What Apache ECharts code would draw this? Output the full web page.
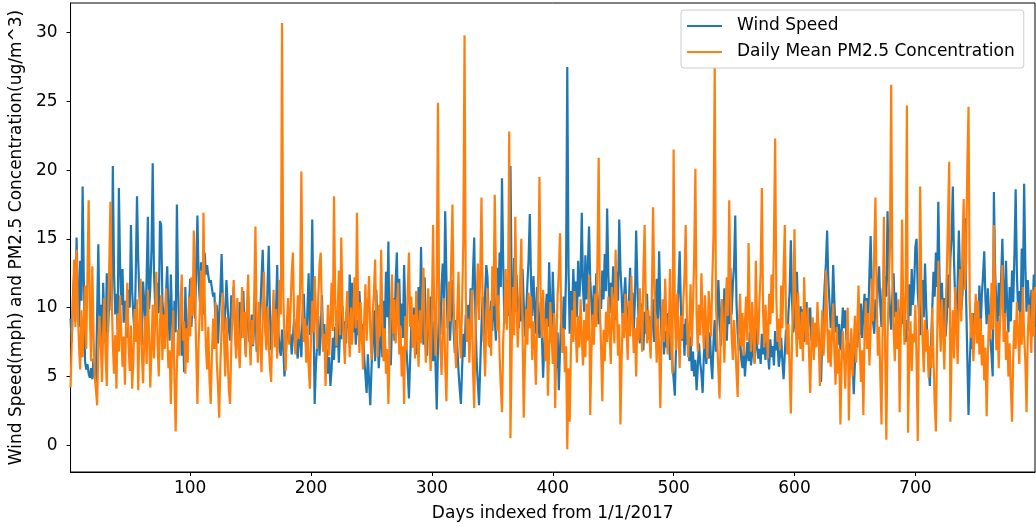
<!DOCTYPE html>
<html>
<head>
<meta charset="utf-8">
<script src="https://cdn.jsdelivr.net/npm/echarts@6/dist/echarts.min.js"></script>
<style>
html,body{margin:0;padding:0;background:#fff;}
#chart{width:1036px;height:527px;}
</style>
</head>
<body>
<div id="chart"></div>
<script>
// Wind speed (mph), one value per day starting at day 1
const windSpeed = [
9.2, 7.5, 10.8, 12.5, 9.0, 15.1, 11.2, 8.6, 13.4, 10.5,
18.8, 12.0, 6.1, 5.5, 5.9, 5.2, 4.9, 5.6, 4.8, 6.3,
5.0, 4.6, 9.5, 14.6, 8.8, 10.2, 6.3, 11.8, 9.0, 7.4,
12.5, 8.2, 10.6, 15.0, 9.8, 20.3, 12.4, 9.5, 11.0, 8.4,
18.7, 13.0, 10.2, 12.8, 8.9, 10.5, 9.1, 7.8, 11.3, 10.0,
16.0, 11.2, 9.4, 8.1, 12.6, 18.1, 13.5, 10.8, 9.6, 7.3,
11.9, 10.4, 8.7, 12.3, 16.6, 9.9, 11.4, 14.2, 20.5, 12.7,
10.3, 8.9, 11.8, 9.6, 16.3, 16.0, 10.5, 9.2, 8.1, 11.0,
13.0, 9.7, 7.6, 12.4, 9.0, 6.8, 10.5, 8.2, 17.5, 11.3,
7.9, 9.4, 6.5, 8.8, 5.3, 11.5, 8.0, 7.2, 9.9, 12.1,
8.6, 10.3, 11.8, 9.2, 13.0, 16.7, 12.0, 10.4, 13.3, 11.0,
9.5, 14.0, 12.4, 13.1, 12.3, 11.8, 12.0, 11.4, 10.8, 11.1,
8.9, 10.2, 7.4, 9.5, 11.2, 13.9, 10.6, 8.3, 9.7, 12.0,
10.1, 8.5, 7.6, 10.9, 9.2, 11.5, 8.7, 6.9, 9.3, 8.0,
10.4, 7.8, 9.1, 11.2, 8.2, 6.6, 9.0, 10.8, 7.5, 8.3,
9.5, 7.2, 8.8, 10.6, 6.8, 8.4, 7.5, 9.7, 12.0, 14.2,
10.8, 9.1, 7.4, 11.6, 14.5, 9.8, 6.9, 8.5, 10.2, 8.8,
9.6, 13.1, 8.2, 7.0, 6.5, 8.4, 7.2, 5.0, 6.1, 8.3,
9.0, 7.4, 8.1, 6.6, 7.8, 9.2, 8.5, 7.1, 6.3, 8.8,
7.5, 6.4, 9.6, 11.0, 8.3, 7.0, 9.8, 12.5, 8.0, 10.2,
16.4, 9.5, 3.0, 5.8, 7.2, 9.4, 6.5, 8.1, 10.9, 7.6,
8.8, 6.1, 7.0, 5.2, 6.4, 4.3, 5.5, 7.8, 6.2, 8.6,
7.1, 9.3, 6.0, 8.4, 7.7, 10.1, 8.3, 9.0, 7.4, 10.6,
8.5, 12.4, 9.6, 11.8, 8.2, 10.0, 7.3, 9.1, 8.0, 11.2,
9.4, 7.5, 8.8, 6.3, 5.1, 3.8, 6.6, 4.7, 2.9, 5.5,
7.9, 9.8, 6.1, 11.3, 8.4, 5.6, 7.2, 9.0, 6.4, 10.5,
8.1, 12.6, 9.3, 14.8, 7.4, 5.8, 8.9, 10.7, 7.6, 11.9,
14.0, 9.2, 12.1, 8.5, 10.3, 7.8, 13.1, 9.6, 6.9, 5.4,
3.4, 6.2, 8.7, 7.1, 10.0, 8.4, 6.6, 9.3, 11.5, 8.8,
14.4, 9.9, 7.3, 12.2, 8.6, 6.5, 9.7, 7.9, 10.8, 8.2,
6.1, 9.0, 5.8, 2.6, 6.9, 10.4, 8.0, 11.6, 13.2, 10.1,
17.0, 12.3, 8.5, 10.9, 7.6, 9.8, 12.0, 8.3, 6.7, 9.1,
7.2, 5.4, 4.1, 3.0, 5.6, 8.1, 6.4, 9.5, 7.8, 10.2,
8.0, 11.4, 9.1, 12.5, 15.1, 9.4, 6.2, 4.5, 2.9, 5.8,
8.6, 10.8, 7.5, 11.0, 13.1, 12.2, 9.0, 7.1, 10.5, 8.3,
11.8, 9.2, 7.6, 12.9, 10.1, 14.0, 11.5, 19.4, 13.2, 8.8,
10.6, 12.0, 9.4, 14.5, 20.3, 11.0, 8.2, 13.6, 9.7, 12.4,
10.1, 8.5, 11.2, 9.0, 12.8, 10.3, 7.9, 9.6, 11.7, 13.5,
16.8, 11.9, 9.4, 12.3, 10.0, 8.1, 11.5, 9.2, 7.8, 10.4,
8.0, 4.9, 7.3, 9.5, 11.0, 8.6, 13.3, 10.1, 7.4, 12.6,
9.8, 7.0, 5.6, 8.2, 4.0, 6.9, 9.3, 7.5, 10.8, 8.4,
12.5, 27.5, 13.0, 8.1, 11.2, 9.6, 12.8, 10.4, 11.9, 9.3,
13.4, 10.8, 12.2, 16.9, 11.5, 9.7, 13.8, 10.6, 12.9, 15.9,
12.0, 10.3, 8.7, 11.6, 9.4, 12.5, 10.1, 8.8, 11.3, 9.9,
12.7, 10.6, 13.9, 11.2, 17.2, 12.4, 9.6, 11.8, 10.2, 13.0,
11.4, 9.1, 12.6, 10.5, 16.4, 12.8, 11.0, 8.5, 10.9, 12.2,
9.8, 7.6, 10.4, 12.9, 9.5, 11.1, 8.3, 10.6, 15.6, 11.8,
9.2, 7.4, 10.3, 8.6, 6.9, 9.7, 8.1, 11.0, 7.7, 9.4,
6.8, 8.9, 10.6, 7.5, 9.9, 12.1, 8.7, 14.1, 10.2, 7.9,
9.4, 6.6, 8.3, 7.1, 9.6, 8.0, 6.2, 7.8, 5.9, 4.8,
3.6, 7.2, 9.0, 11.4, 14.1, 10.0, 7.6, 8.8, 6.5, 9.2,
7.3, 8.5, 6.1, 7.9, 5.4, 6.8, 5.0, 6.2, 4.0, 5.7,
7.4, 6.0, 5.2, 3.8, 6.5, 8.0, 5.9, 7.1, 6.3, 8.2,
6.0, 4.8, 7.5, 9.1, 6.8, 8.4, 12.0, 9.7, 7.2, 10.6,
8.3, 11.4, 9.0, 7.6, 10.2, 8.8, 12.9, 9.5, 11.7, 13.0,
16.7, 10.4, 8.1, 6.9, 7.8, 6.2, 5.6, 7.0, 5.0, 6.4,
7.5, 6.1, 8.2, 5.8, 6.7, 7.9, 6.0, 8.5, 7.2, 6.3,
7.0, 5.9, 8.1, 6.6, 7.4, 6.2, 8.0, 6.8, 5.5, 7.7,
6.4, 7.2, 5.8, 8.3, 6.9, 7.6, 5.7, 6.5, 7.8, 6.1,
4.8, 6.7, 8.4, 7.3, 9.6, 11.2, 14.9, 10.5, 8.2, 9.0,
10.8, 12.6, 9.4, 7.7, 10.1, 8.6, 9.9, 7.5, 8.9, 10.4,
8.2, 9.3, 10.0, 7.6, 9.1, 6.8, 8.4, 7.2, 9.5, 8.0,
6.6, 4.6, 7.9, 9.8, 11.7, 13.2, 15.6, 12.0, 10.3, 8.5,
9.7, 13.1, 10.5, 8.2, 9.4, 7.3, 8.8, 6.9, 8.1, 10.0,
8.5, 9.8, 7.6, 8.9, 6.2, 7.4, 5.5, 6.6, 3.7, 6.0,
8.2, 7.1, 9.4, 8.0, 10.3, 7.8, 9.6, 11.0, 8.5, 10.7,
9.2, 12.4, 15.2, 11.5, 9.0, 8.1, 10.6, 9.3, 11.8, 13.0,
10.2, 8.6, 11.4, 9.5, 12.3, 10.8, 17.0, 12.1, 9.7, 8.4,
10.9, 12.5, 9.3, 11.1, 8.7, 10.0, 7.9, 9.6, 11.2, 8.8,
10.4, 7.5, 9.1, 8.3, 11.7, 9.4, 12.8, 10.2, 11.5, 14.4,
15.0, 11.2, 9.6, 8.0, 10.5, 12.0, 9.3, 13.2, 10.1, 7.5,
5.8, 4.3, 7.4, 9.9, 12.6, 10.8, 14.0, 11.5, 17.7, 12.3,
9.4, 11.8, 8.6, 10.7, 7.9, 9.2, 12.4, 10.0, 13.6, 15.1,
18.8, 13.4, 10.5, 9.0, 11.7, 15.6, 12.2, 9.8, 11.0, 13.5,
16.5, 10.7, 6.4, 2.2, 5.9, 8.3, 7.0, 9.6, 8.1, 10.4,
7.7, 9.0, 11.6, 8.4, 10.9, 12.3, 14.1, 10.6, 8.8, 11.4,
9.5, 7.8, 6.6, 5.0, 18.4, 12.6, 10.3, 8.7, 11.8, 9.4,
12.2, 15.0, 11.1, 9.3, 13.4, 10.0, 8.2, 11.5, 9.0, 12.7,
10.4, 13.9, 18.6, 12.5, 9.8, 11.2, 8.6, 14.3, 10.9, 19.0,
13.1, 9.7, 12.0, 10.5, 8.9, 11.3, 9.6, 12.4, 8.6
];

// Daily mean PM2.5 concentration (ug/m^3), one value per day starting at day 1
const pm25 = [
4.2, 7.5, 10.3, 13.5, 8.6, 14.2, 10.1, 7.2, 5.5, 9.8,
6.4, 8.9, 11.6, 7.0, 12.4, 17.8, 9.5, 6.1, 13.0, 8.2,
5.0, 4.1, 2.9, 6.8, 9.4, 7.6, 4.6, 8.3, 10.7, 6.5,
4.3, 9.1, 12.8, 17.7, 11.0, 7.4, 5.2, 8.0, 4.1, 9.6,
6.8, 10.9, 8.1, 5.7, 7.9, 4.4, 9.2, 11.8, 7.3, 5.4,
8.7, 4.1, 6.2, 9.9, 7.5, 10.6, 4.0, 8.3, 12.1, 6.6,
4.5, 7.8, 9.4, 5.9, 11.3, 8.0, 4.2, 7.1, 10.2, 6.3,
9.0, 12.6, 7.4, 5.0, 8.8, 10.9, 6.2, 9.5, 7.0, 11.4,
8.1, 5.6, 6.9, 3.0, 7.3, 9.8, 4.6, 1.0, 5.8, 8.4,
6.5, 10.1, 12.4, 7.6, 9.0, 5.2, 8.5, 6.0, 10.8, 7.9,
12.2, 9.4, 15.6, 11.0, 6.8, 3.0, 7.5, 9.9, 12.7, 8.3,
16.9, 10.5, 7.2, 5.5, 8.6, 4.8, 3.0, 6.7, 9.2, 7.0,
10.4, 6.1, 4.3, 2.0, 5.9, 8.5, 11.1, 7.7, 5.0, 9.3,
6.6, 4.0, 3.0, 7.2, 9.6, 12.0, 8.4, 6.3, 10.7, 7.5,
5.6, 8.9, 11.5, 7.8, 9.7, 6.4, 10.2, 12.4, 8.0, 5.8,
9.1, 7.3, 11.0, 15.9, 8.6, 6.0, 10.4, 7.7, 5.3, 9.2,
12.6, 8.5, 6.9, 10.1, 7.4, 5.6, 4.6, 8.8, 11.3, 7.1,
9.9, 6.3, 8.2, 12.0, 9.5, 30.7, 11.2, 7.6, 5.4, 8.9,
10.7, 7.3, 9.8, 12.5, 14.0, 9.1, 6.6, 8.4, 10.9, 7.7,
11.6, 19.9, 10.3, 7.5, 9.2, 6.0, 8.7, 5.8, 4.1, 7.9,
10.5, 8.2, 12.3, 9.6, 7.0, 10.8, 13.1, 14.0, 9.4, 6.8,
8.1, 4.3, 7.6, 10.2, 6.5, 9.0, 11.8, 8.3, 18.1, 10.6,
7.2, 9.5, 12.7, 8.0, 15.1, 10.3, 7.8, 5.9, 9.4, 11.2,
8.6, 6.4, 10.0, 7.3, 9.7, 12.2, 8.5, 16.9, 9.8, 6.7,
10.4, 8.0, 5.5, 9.2, 11.7, 7.6, 10.1, 12.3, 8.4, 6.2,
9.6, 11.0, 13.5, 8.8, 6.4, 10.2, 7.9, 14.2, 9.0, 6.1,
8.5, 5.2, 7.0, 3.0, 6.8, 9.9, 12.4, 8.1, 10.6, 7.4,
9.3, 11.8, 6.6, 8.7, 5.0, 7.2, 3.0, 9.4, 6.9, 11.3,
14.0, 8.6, 10.8, 7.1, 9.5, 6.3, 11.2, 8.0, 5.7, 9.8,
7.4, 10.5, 12.9, 8.2, 6.0, 9.1, 11.4, 7.7, 5.4, 10.0,
16.0, 8.9, 6.5, 11.6, 24.9, 9.3, 7.2, 5.1, 8.6, 10.7,
5.8, 3.2, 8.0, 11.9, 9.0, 13.5, 17.5, 10.2, 7.4, 5.6,
9.7, 12.6, 8.1, 6.3, 10.4, 14.8, 29.8, 11.0, 7.5, 9.2,
6.0, 8.7, 11.3, 5.4, 2.7, 7.9, 10.6, 13.2, 9.1, 12.5,
18.0, 10.3, 7.6, 5.0, 8.9, 11.4, 7.2, 9.8, 6.5, 13.0,
10.1, 18.2, 12.4, 8.3, 10.9, 6.6, 4.2, 2.4, 7.7, 9.5,
12.8, 8.4, 10.7, 22.8, 0.5, 6.9, 11.5, 8.0, 16.6, 10.3,
7.1, 9.4, 12.0, 15.0, 8.2, 2.0, 6.4, 9.9, 7.3, 11.1,
8.5, 10.8, 6.2, 9.0, 7.4, 4.4, 8.8, 12.5, 19.5, 10.0,
7.8, 11.3, 8.6, 6.1, 9.2, 3.6, 7.0, 10.4, 8.1, 5.9,
9.6, 2.7, 7.4, 10.9, 12.6, 15.4, 9.0, 6.7, 8.5, 5.3,
7.2, -0.3, 5.6, 1.7, 6.9, 9.8, 7.5, 11.2, 8.3, 6.0,
9.4, 7.1, 10.6, 8.0, 5.8, 9.1, 6.4, 10.3, 7.6, 12.4,
2.2, 6.8, 9.5, 7.3, 11.0, 8.6, 13.8, 20.9, 9.9, 7.0,
3.2, 8.4, 6.1, 9.7, 7.5, 10.8, 8.2, 5.9, 11.5, 9.0,
7.4, 14.2, 10.1, 6.5, 8.8, 1.5, 6.3, 9.6, 7.8, 11.0,
8.4, 6.2, 10.5, 7.9, 12.3, 9.1, 6.7, 8.5, 5.0, 9.3,
7.6, 11.4, 9.0, 6.8, 12.7, 16.0, 10.2, 7.4, 9.8, 8.0,
6.3, 10.9, 17.3, 11.6, 8.5, 6.0, 9.2, 7.1, 2.7, 8.3,
10.6, 7.5, 12.1, 9.0, 6.6, 8.4, 12.8, 7.3, 5.2, 21.5,
9.7, 6.9, 11.0, 8.2, 5.6, 9.4, 7.7, 10.5, 12.3, 16.0,
9.1, 6.4, 8.8, 11.7, 7.2, 10.0, 13.6, 20.1, 9.5, 6.8,
10.2, 8.0, 12.5, 9.3, 7.0, 10.9, 8.4, 6.3, 11.2, 9.6,
7.9, 12.0, 15.3, 27.5, 10.4, 7.7, 5.5, 3.4, 8.1, 10.6,
8.3, 6.0, 9.9, 12.2, 9.4, 17.8, 11.5, 8.0, 6.2, 9.1,
7.4, 5.3, 3.5, 8.7, 11.0, 7.2, 9.6, 6.5, 8.9, 10.8,
7.6, 14.7, 9.3, 6.8, 10.4, 8.1, 5.9, 13.4, 9.0, 7.3,
10.5, 12.6, 18.7, 9.8, 7.1, 10.2, 8.4, 6.3, 11.0, 8.8,
12.4, 9.6, 14.9, 22.3, 10.7, 7.5, 9.2, 6.9, 11.6, 8.5,
12.7, 16.0, 9.4, 6.6, 8.8, 5.4, 2.3, 7.9, 10.3, 15.7,
9.0, 6.4, 11.1, 8.2, 7.0, 9.7, 6.1, 12.2, 8.6, 7.3,
10.0, 6.8, 3.8, 7.5, 9.3, 6.2, 8.9, 7.1, 10.4, 8.0,
4.3, 7.6, 9.8, 6.5, 8.2, 12.7, 9.1, 6.0, 8.4, 5.7,
7.9, 10.3, 6.8, 4.4, 8.6, 5.2, 7.0, 1.5, 5.9, 8.3,
6.4, 4.1, 7.7, 10.0, 1.8, 6.2, 8.5, 5.0, 7.3, 9.4,
6.0, 8.8, 11.6, 7.2, 4.6, 6.9, 2.2, 8.1, 10.5, 7.0,
9.6, 5.8, 8.3, 12.1, 9.0, 14.4, 18.0, 10.7, 6.5, 8.6,
5.1, 1.5, 9.2, 16.6, 6.8, 0.4, 7.9, 11.3, 14.5, 26.2,
12.0, 8.4, 6.1, 9.7, 7.0, 10.6, 2.4, 8.8, 16.4, 9.9,
7.3, 11.8, 24.7, 0.9, 6.6, 9.0, 5.4, 8.1, 7.5, 10.2,
6.2, 0.3, 9.4, 18.8, 11.0, 7.6, 5.3, 9.1, 6.8, 8.4,
4.9, 7.2, 5.6, 10.0, 6.4, 3.1, 1.0, 7.5, 13.4, 9.2,
6.8, 10.6, 8.1, 5.5, 9.7, 12.4, 16.3, 20.6, 1.7, 7.0,
9.8, 6.3, 11.5, 8.7, 5.9, 10.1, 12.8, 9.0, 14.6, 17.9,
11.3, 13.7, 20.2, 24.6, 10.4, 7.8, 9.6, 6.1, 8.3, 11.0,
7.4, 10.5, 6.6, 9.2, 5.8, 8.0, 4.7, 7.1, 2.1, 6.3,
9.5, 7.7, 11.8, 8.4, 16.0, 10.2, 6.9, 9.0, 5.6, 8.8,
10.7, 13.1, 7.5, 9.6, 6.2, 8.3, 5.0, 7.4, 4.2, 1.7,
6.5, 9.1, 7.0, 10.4, 8.2, 5.9, 9.7, 7.3, 11.5, 8.0,
6.1, 2.4, 7.8, 10.2, 8.5, 6.7, 11.3, 7.9, 11.5
];

const xTicks = [100, 200, 300, 400, 500, 600, 700];
const yTicks = [0, 5, 10, 15, 20, 25, 30];
const seriesNames = ['Wind Speed', 'Daily Mean PM2.5 Concentration'];

const windPts = windSpeed.map((v, i) => [i + 1, v]);
const pmPts = pm25.map((v, i) => [i + 1, v]);

const FONT = 'DejaVu Sans';
const FS = 17;
const chart = echarts.init(document.getElementById('chart'), null, {renderer: 'canvas'});
chart.setOption({
  animation: false,
  backgroundColor: '#ffffff',
  textStyle: {fontFamily: FONT},
  grid: {left: 67, right: 1, top: 3, bottom: 51, show: true, borderColor: '#000', borderWidth: 1, backgroundColor: 'transparent'},
  legend: {
    orient: 'vertical', left: 681, top: 10,
    padding: [6, 9, 6, 6],
    itemWidth: 35, itemHeight: 2, itemGap: 6,
    icon: 'rect',
    backgroundColor: 'rgba(255,255,255,0.85)',
    borderColor: '#cccccc', borderWidth: 1, borderRadius: 3,
    textStyle: {fontFamily: FONT, fontSize: FS, color: '#000', lineHeight: 20, padding: [0, 0, 0, 10]},
    data: seriesNames
  },
  xAxis: {
    type: 'value', min: 1, max: 799,
    name: 'Days indexed from 1/1/2017', nameLocation: 'middle', nameGap: 33,
    nameTextStyle: {fontFamily: FONT, fontSize: FS, color: '#000'},
    axisLine: {show: true, onZero: false, lineStyle: {color: '#000', width: 1}},
    axisTick: {show: true, length: 4, lineStyle: {color: '#000'}, customValues: xTicks},
    axisLabel: {fontFamily: FONT, fontSize: FS, color: '#000', margin: 8, customValues: xTicks},
    splitLine: {show: false}
  },
  yAxis: {
    type: 'value', min: -1.95, max: 32.15,
    name: 'Wind Speed(mph) and PM2.5 Concentration(ug/m^3)', nameLocation: 'middle', nameGap: 44,
    nameTextStyle: {fontFamily: FONT, fontSize: FS, color: '#000'},
    axisLine: {show: true, onZero: false, lineStyle: {color: '#000', width: 1}},
    axisTick: {show: true, length: 4, lineStyle: {color: '#000'}, customValues: yTicks},
    axisLabel: {fontFamily: FONT, fontSize: FS, color: '#000', margin: 13, customValues: yTicks},
    splitLine: {show: false}
  },
  series: [
    {name: seriesNames[0], type: 'line', data: windPts, showSymbol: false, symbol: 'none',
     color: '#1f77b4', lineStyle: {color: '#1f77b4', width: 2.2}, z: 2},
    {name: seriesNames[1], type: 'line', data: pmPts, showSymbol: false, symbol: 'none',
     color: '#ff7f0e', lineStyle: {color: '#ff7f0e', width: 2.2}, z: 3}
  ]
});
</script>
</body>
</html>
